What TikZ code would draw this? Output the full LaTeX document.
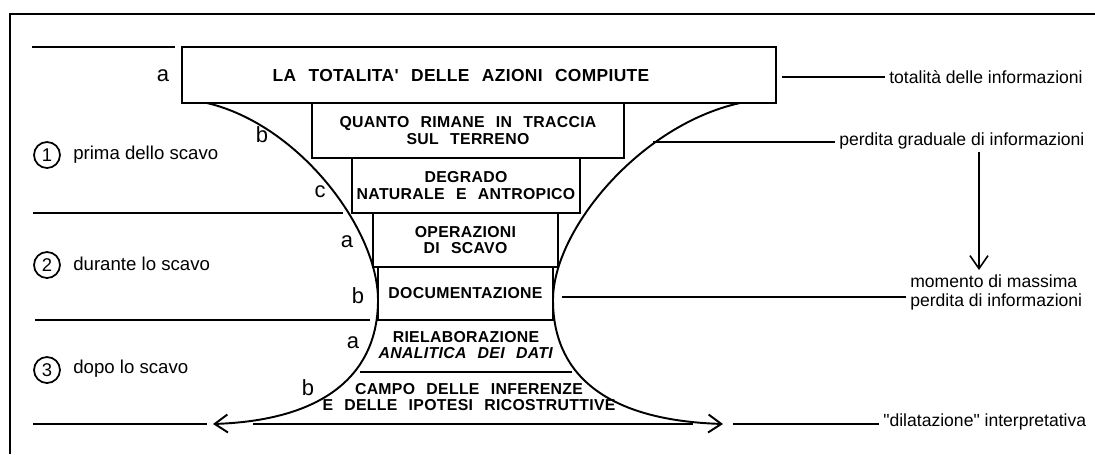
\documentclass[tikz,border=0pt]{standalone}
\usepackage{fontspec}
\setmainfont{Liberation Sans}
\newfontfamily\notefont{Liberation Sans}
\newfontfamily\boxfont[LetterSpace=2,WordSpace=2.4]{Liberation Sans}
\usetikzlibrary{arrows.meta}

\begin{document}
\begin{tikzpicture}[x=0.02cm,y=-0.02cm,
  >={Straight Barb[length=2.6mm,width=3.6mm]},
  every path/.style={line width=0.9pt},
  box/.style={draw,inner sep=0pt,align=center,
    font=\boxfont\bfseries\fontsize{9}{9.6}\selectfont},
  boxtext/.style={inner sep=0pt,align=center,
    font=\boxfont\bfseries\fontsize{9}{9.6}\selectfont},
  note/.style={inner sep=2pt,anchor=west,align=left,
    font=\notefont\fontsize{10}{10.8}\selectfont},
  letter/.style={inner sep=0pt,font=\fontsize{12.5}{13}\selectfont},
  phase/.style={draw,circle,line width=1pt,minimum size=0.52cm,
    inner sep=0pt,font=\fontsize{10.5}{11}\selectfont},
  curve/.style={line width=1.1pt}]
\useasboundingbox (0,0) rectangle (1095,454);

% frame
\draw (10,454) -- (10,14) -- (1095,14);

% the funnel of boxes
\node[box,minimum width=11.88cm,minimum height=1.12cm] (tot) at (479,75) {};
\node[boxtext,font=\boxfont\bfseries\fontsize{9.9}{11}\selectfont] (tottxt) at (461,76)
  {LA TOTALITA' DELLE AZIONI COMPIUTE};
\node[box,minimum width=6.24cm,minimum height=1.10cm] (traccia) at (468,130.5)
  {QUANTO RIMANE IN TRACCIA\\SUL TERRENO};
\node[box,minimum width=4.56cm,minimum height=1.10cm] (degrado) at (466,185.5)
  {DEGRADO\\NATURALE E ANTROPICO};
\node[box,minimum width=3.70cm,minimum height=1.08cm] (scavo) at (465.5,240)
  {OPERAZIONI\\DI SCAVO};
\node[box,minimum width=3.50cm,minimum height=1.06cm] (doc) at (465.5,293.5)
  {DOCUMENTAZIONE};
\node[boxtext] (rielab) at (466,345) {RIELABORAZIONE\\\textit{ANALITICA DEI DATI}};
\node[boxtext] (campo) at (469,397) {CAMPO DELLE INFERENZE\\E DELLE IPOTESI RICOSTRUTTIVE};
\draw (360,372) -- (572,372);
\draw (253,424) -- (693,424);

% the two sides
\draw[curve,->] (207,103) .. controls (300,125) and (378,230) .. (378,300)
  .. controls (378,370) and (330,420) .. (213,424);
\draw[curve,->] (740,103) .. controls (640,125) and (553,230) .. (553,300)
  .. controls (553,370) and (600,420) .. (723,424);

% letters
\node[letter] (a1) at (163,76) {a};
\node[letter] (b1) at (262,135) {b};
\node[letter] (c1) at (320,192) {c};
\node[letter] (a2) at (347,242) {a};
\node[letter] (b2) at (358,296) {b};
\node[letter] (a3) at (353,343) {a};
\node[letter] (b3) at (308,388) {b};

% phases on the left
\draw (32,47) -- (175,47);
\draw (33,213) -- (343,213);
\draw (35,320) -- (370,320);
\draw (33,424) -- (207,424);
\node[phase] (ph1) at (47,155) {1};
\node[note,font=\notefont\fontsize{10.6}{11}\selectfont] (ph1txt) at (69,155) {prima dello scavo};
\node[phase] (ph2) at (47,265) {2};
\node[note,font=\notefont\fontsize{10.6}{11}\selectfont] (ph2txt) at (69,264) {durante lo scavo};
\node[phase] (ph3) at (47,370) {3};
\node[note,font=\notefont\fontsize{10.6}{11}\selectfont] (ph3txt) at (69,369) {dopo lo scavo};

% notes on the right
\node[note] (lbltot) at (885,77) {totalità delle informazioni};
\draw ([xshift=3pt]tot.east |- lbltot.west) -- (lbltot.west);
\node[note] (lblgrad) at (835,141) {perdita graduale di informazioni};
\coordinate (g1) at (653,142);
\draw (g1) -- (g1 -| lblgrad.west);
\node[note] (lblmax) at (906,292) {momento di massima\\perdita di informazioni};
\coordinate (m1) at (562,297);
\draw (m1) -- (m1 -| lblmax.west);
\coordinate (v1) at (979,152);
\draw[->] (v1) -- (v1 |- lblmax.north);
\node[note] (lbldil) at (879,422) {"dilatazione" interpretativa};
\coordinate (d1) at (733,424);
\draw (d1) -- (d1 -| lbldil.west);
\end{tikzpicture}
\end{document}
